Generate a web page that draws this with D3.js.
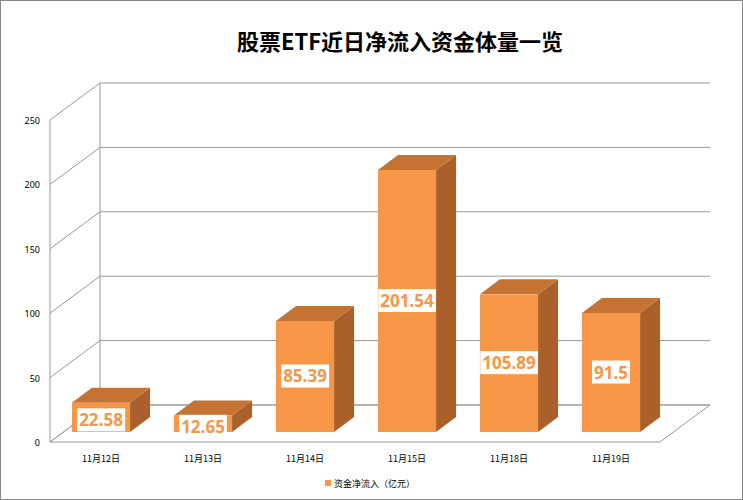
<!DOCTYPE html><html><head><meta charset="utf-8"><script src="https://d3js.org/d3.v7.min.js"></script>
<style>body{margin:0;background:#fff}</style></head><body><svg id="c" width="743" height="500"></svg>
<script>
const categories=["11月12日","11月13日","11月14日","11月15日","11月18日","11月19日"];
const values=[22.58,12.65,85.39,201.54,105.89,91.5];
const ticks=[0,50,100,150,200,250];
const svg=d3.select("#c");
svg.append("rect").attr("x",0.5).attr("y",0.5).attr("width",742).attr("height",499).attr("fill","#fff").attr("stroke","#888");
svg.append("text").attr("x",400).attr("y",50).attr("text-anchor","middle").attr("font-family","Noto Sans CJK SC").attr("font-weight","bold").attr("font-size",22).text("股票ETF近日净流入资金体量一览");
const y=d3.scaleLinear().domain([0,250]).range([442,120]);
const DX=50,DY=-37;
const g=svg.append("g");
// floor & walls
g.append("path").attr("d",`M50,442 L${50+DX},${442+DY} L710,${442+DY} L660,442 Z`).attr("fill","none").attr("stroke","#999");
ticks.forEach(t=>{
  g.append("line").attr("x1",50).attr("y1",y(t)).attr("x2",50+DX).attr("y2",y(t)+DY).attr("stroke","#999");
  g.append("line").attr("x1",50+DX).attr("y1",y(t)+DY).attr("x2",710).attr("y2",y(t)+DY).attr("stroke","#999");
  g.append("text").attr("x",40).attr("y",y(t)+4).attr("text-anchor","end").attr("font-family","Noto Sans").attr("font-size",9).text(t);
});
g.append("line").attr("x1",50).attr("y1",442).attr("x2",50).attr("y2",y(250)).attr("stroke","#999");
g.append("line").attr("x1",50+DX).attr("y1",442+DY).attr("x2",50+DX).attr("y2",y(250)+DY).attr("stroke","#999");
const x=d3.scaleBand().domain(categories).range([50,662]).paddingInner(0.43).paddingOuter(0.215);
const h=d3.scaleLinear().domain([0,250]).range([432,432-325]);
const dx=20,dy=-15;
categories.forEach((c,i)=>{
  const x0=x(c),w=x.bandwidth(),yt=h(values[i]),yb=h(0);
  g.append("path").attr("d",`M${x0+w},${yb} L${x0+w+dx},${yb+dy} L${x0+w+dx},${yt+dy} L${x0+w},${yt} Z`).attr("fill","#A9602A");
  g.append("path").attr("d",`M${x0},${yt} L${x0+dx},${yt+dy} L${x0+w+dx},${yt+dy} L${x0+w},${yt} Z`).attr("fill","#C47333");
  g.append("rect").attr("x",x0).attr("y",yt).attr("width",w).attr("height",yb-yt).attr("fill","#F79646");
  const cy=values[i]<30?(yt+yb)/2+3:(yt+yb)/2;
  const t=g.append("text").attr("x",x0+w/2).attr("y",cy+6).attr("text-anchor","middle").attr("font-family","Open Sans").attr("font-weight","bold").attr("font-size",17).attr("fill","#F79646").text(values[i]);
  const bb=t.node().getBBox();
  g.insert("rect",()=>t.node()).attr("x",bb.x-2).attr("y",bb.y).attr("width",bb.width+4).attr("height",bb.height).attr("fill","#fff");
  g.append("text").attr("x",x0+w/2).attr("y",462).attr("text-anchor","middle").attr("font-family","Noto Sans CJK SC").attr("font-size",9).text(c);
});
svg.append("rect").attr("x",325).attr("y",480).attr("width",6).attr("height",6).attr("fill","#F79646");
svg.append("text").attr("x",334).attr("y",487).attr("font-family","Noto Sans CJK SC").attr("font-size",9).text("资金净流入（亿元）");
</script></body></html>
